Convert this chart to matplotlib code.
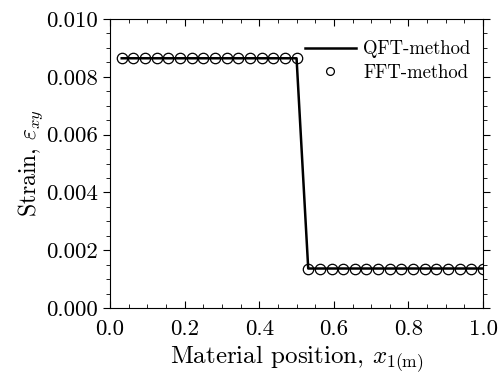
import matplotlib
matplotlib.use("Agg")
import matplotlib.pyplot as plt
from matplotlib.ticker import MultipleLocator
import numpy as np

plt.rcParams['font.family'] = 'serif'
plt.rcParams['font.serif'] = ['cmr10']
plt.rcParams['mathtext.fontset'] = 'cm'
plt.rcParams['axes.unicode_minus'] = False
plt.rcParams['axes.formatter.use_mathtext'] = True

# sample positions (32 cells) and strain values
x_pos = np.arange(1, 33) / 32.0
strain_left = 0.00864
strain_right = 0.00137
n_left = 16
n_right = 16
strain = np.array([strain_left] * n_left + [strain_right] * n_right)

fig = plt.figure(figsize=(4.98, 3.79), dpi=100)
ax = fig.add_axes([0.221, 0.187, 0.749, 0.763])

ax.plot(x_pos, strain, '-', color='k', lw=1.8, label='QFT-method')
ax.plot(x_pos, strain, 'o', mfc='none', mec='k', mew=0.9, ms=7.5, label='FFT-method')

ax.set_xlim(0, 1.0)
ax.set_ylim(0, 0.010)
ax.xaxis.set_major_locator(MultipleLocator(0.2))
ax.xaxis.set_minor_locator(MultipleLocator(0.05))
ax.yaxis.set_major_locator(MultipleLocator(0.002))
ax.yaxis.set_minor_locator(MultipleLocator(0.0005))
ax.xaxis.set_major_formatter(plt.FuncFormatter(lambda v, p: '%.1f' % v))
ax.yaxis.set_major_formatter(plt.FuncFormatter(lambda v, p: '%.3f' % v))
ax.tick_params(axis='x', which='both', direction='in', top=True, labelsize=16.5, pad=8)
ax.tick_params(axis='y', which='both', direction='out', right=True, labelsize=16.5)
ax.tick_params(which='major', length=5)
ax.tick_params(which='minor', length=3)

ax.set_xlabel(r'Material position, $x_{1\mathrm{(m)}}$', fontsize=18, labelpad=4)
ax.set_ylabel(r'Strain, $\varepsilon_{xy}$', fontsize=17, labelpad=1)

ax.legend(loc='upper right', bbox_to_anchor=(1.012, 0.985), frameon=False,
          fontsize=13.5, handlelength=2.7, handletextpad=0.4,
          labelspacing=0.3, markerscale=0.75)

fig.savefig('out.png', dpi=100)
